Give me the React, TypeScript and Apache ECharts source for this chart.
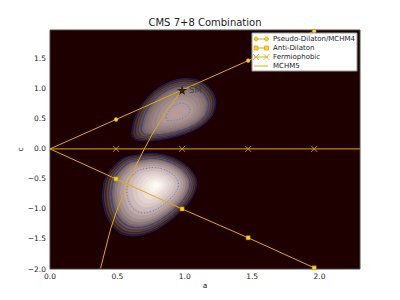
import { useEffect, useRef } from "react";
import * as echarts from "echarts";

// ---------- data ----------
const TITLE = "CMS 7+8 Combination";
const X_NAME = "a";
const Y_NAME = "c";
const X_MIN = 0;
const X_MAX = 2.3;
const Y_MIN = -2.0;
const Y_MAX = 1.98;
const TICK_STEP = 0.5;

const SERIES_NAMES = ["Pseudo-Dilaton/MCHM4", "Anti-Dilaton", "Fermiophobic", "MCHM5"];

const PSEUDO_DILATON = [[0, 0], [0.49, 0.49], [0.98, 0.98], [1.47, 1.47], [1.96, 1.96]];
const ANTI_DILATON = [[0, 0], [0.49, -0.5], [0.98, -1.0], [1.47, -1.48], [1.96, -1.98]];
const FERMIOPHOBIC = [[0, 0], [0.49, 0], [0.98, 0], [1.47, 0], [1.96, 0], [2.3, 0]];
const MCHM5 = [
  [0.98, 0.98], [0.93, 0.83], [0.875, 0.66], [0.82, 0.47], [0.76, 0.25], [0.7, 0.0],
  [0.63, -0.31], [0.55, -0.72], [0.5, -1.0], [0.45, -1.33], [0.41, -1.68], [0.375, -1.99],
];
const SM_POINT = [0.98, 0.98];
const SM_LABEL = "SM";

// likelihood blobs: outer contour outline + peak position
const UPPER_OUTLINE = [
  [0.608, 0.308], [0.644, 0.587], [0.718, 0.837], [0.817, 1.03], [0.94, 1.15], [1.063, 1.16],
  [1.162, 1.06], [1.223, 0.863], [1.223, 0.67], [1.174, 0.475], [1.063, 0.308], [0.915, 0.197],
  [0.767, 0.142], [0.656, 0.142], [0.615, 0.197],
];
const UPPER_PEAK = [0.96, 0.6];
const UPPER_LEVELS = [1, 0.97, 0.94, 0.91, 0.88, 0.85, 0.82, 0.78, 0.73, 0.66, 0.58, 0.48, 0.38, 0.28, 0.18, 0.1];
const UPPER_DASHED = 0.8;
const UPPER_DOTTED = 0.28;

const LOWER_OUTLINE = [
  [0.472, -0.297], [0.545, -0.158], [0.645, -0.103], [0.743, -0.075], [0.866, -0.113],
  [0.989, -0.242], [1.063, -0.408], [1.088, -0.575], [1.051, -0.825], [0.965, -1.047],
  [0.841, -1.27], [0.718, -1.408], [0.595, -1.447], [0.509, -1.38], [0.435, -1.187],
  [0.393, -0.88], [0.398, -0.603], [0.423, -0.437],
];
const LOWER_PEAK = [0.79, -0.6];
const LOWER_LEVELS = [1, 0.975, 0.95, 0.925, 0.9, 0.875, 0.85, 0.82, 0.78, 0.73, 0.67, 0.6, 0.52, 0.44, 0.36, 0.28, 0.2, 0.13, 0.07];
const LOWER_DASHED = 0.84;
const LOWER_DOTTED = 0.55;

// ---------- styles ----------
const FONT = "DejaVu Sans";
const BG = "#1e0000";
const LINE = "#e2aa10";
const MARK = "#ffd21a";
const MARK_EDGE = "#b88a00";
const UPPER_SHADES = [
  "#2c1414", "#4a3232", "#3c2626", "#584242", "#4c3838", "#665050", "#5c4848", "#766262",
  "#847070", "#907a7a", "#9a8484", "#a48e8e", "#ac9696", "#b29a9a", "#b69c9c", "#ba9898",
];
const LOWER_SHADES = [
  "#2c1414", "#4a3232", "#3c2626", "#5a4444", "#4c3838", "#6a5656", "#5e4a4a", "#7c6868",
  "#8e7a7a", "#a08c8c", "#b09c9c", "#c0acac", "#ccbaba", "#d8c8c6", "#e2d4d2", "#ebdfdc",
  "#f3eae6", "#f9f3ee", "#fdfaf4",
];

type Shell = { outline: number[][]; peak: number[]; s: number; fill: string; stroke: string; dash: number[] | null; width: number };

function buildShells(): Shell[] {
  const out: Shell[] = [];
  const blobs = [
    { outline: UPPER_OUTLINE, peak: UPPER_PEAK, levels: UPPER_LEVELS, shades: UPPER_SHADES, dashed: UPPER_DASHED, dotted: UPPER_DOTTED },
    { outline: LOWER_OUTLINE, peak: LOWER_PEAK, levels: LOWER_LEVELS, shades: LOWER_SHADES, dashed: LOWER_DASHED, dotted: LOWER_DOTTED },
  ];
  for (const b of blobs) {
    b.levels.forEach((s, i) => out.push({ outline: b.outline, peak: b.peak, s, fill: b.shades[i], stroke: "none", dash: null, width: 0 }));
    out.push({ outline: b.outline, peak: b.peak, s: 1, fill: "none", stroke: "#1a1a7a", dash: null, width: 1 });
    out.push({ outline: b.outline, peak: b.peak, s: b.dashed, fill: "none", stroke: "#3040c0", dash: [4, 3], width: 1 });
    out.push({ outline: b.outline, peak: b.peak, s: b.dotted, fill: "none", stroke: "#8a68b8", dash: [1, 2], width: 1 });
  }
  return out;
}

const fmt = (v: number) => (v < 0 ? "\u2212" : "") + Math.abs(v).toFixed(1);

export default function App() {
  const ref = useRef<HTMLDivElement>(null);
  useEffect(() => {
    if (!ref.current) return;
    const chart = echarts.init(ref.current, undefined, { renderer: "svg" });
    const shells = buildShells();

    const withEnds = (pts: number[][], hideLast: boolean) =>
      pts.map((p, i) => (i === 0 || (hideLast && i === pts.length - 1) ? { value: p, symbol: "none" } : p));

    const legendRows = [0, 1, 2, 3].map((i) => 39 + 9 * i);
    const legendEls: any[] = [
      { type: "rect", shape: { x: 252, y: 33, width: 105, height: 38 }, style: { fill: "#ffffff", stroke: "#999999", lineWidth: 1 }, z: 100 },
    ];
    legendRows.forEach((y, i) => {
      legendEls.push({ type: "line", shape: { x1: 254, y1: y, x2: 268, y2: y }, style: { stroke: LINE, lineWidth: 1 }, z: 101 });
      if (i === 0) {
        [256, 266.5].forEach((x) => legendEls.push({ type: "circle", shape: { cx: x, cy: y, r: 2 }, style: { fill: MARK, stroke: MARK_EDGE, lineWidth: 0.5 }, z: 102 }));
      } else if (i === 1) {
        [256, 266.5].forEach((x) => legendEls.push({ type: "rect", shape: { x: x - 2, y: y - 2, width: 4, height: 4 }, style: { fill: MARK, stroke: MARK_EDGE, lineWidth: 0.5 }, z: 102 }));
      } else if (i === 2) {
        [256, 266.5].forEach((x) => {
          legendEls.push({ type: "line", shape: { x1: x - 3, y1: y - 3, x2: x + 3, y2: y + 3 }, style: { stroke: LINE, lineWidth: 0.8 }, z: 102 });
          legendEls.push({ type: "line", shape: { x1: x - 3, y1: y + 3, x2: x + 3, y2: y - 3 }, style: { stroke: LINE, lineWidth: 0.8 }, z: 102 });
        });
      }
      legendEls.push({
        type: "text", x: 273, y, z: 102,
        style: { text: SERIES_NAMES[i], fill: "#222222", fontSize: 7, fontFamily: FONT, verticalAlign: "middle", align: "left" },
      });
    });

    const option: any = {
      animation: false,
      backgroundColor: "#ffffff",
      title: {
        text: TITLE, left: 205, top: 17, padding: 0, textAlign: "center",
        textStyle: { fontFamily: FONT, fontSize: 10, fontWeight: "normal", color: "#222222" },
      },
      grid: { left: 50, right: 40, top: 30, bottom: 31, show: true, backgroundColor: BG, borderColor: "#4a4a4a", borderWidth: 1 },
      xAxis: {
        type: "value", min: X_MIN, max: X_MAX, interval: TICK_STEP,
        name: X_NAME, nameLocation: "middle", nameGap: 12, nameMoveOverlap: false,
        nameTextStyle: { fontFamily: FONT, fontSize: 7.5, color: "#222222" },
        axisLine: { show: false }, axisTick: { show: false }, splitLine: { show: false },
        axisLabel: { formatter: fmt, fontFamily: FONT, fontSize: 7.5, color: "#222222", margin: 3, showMaxLabel: false },
      },
      yAxis: {
        type: "value", min: Y_MIN, max: Y_MAX, interval: TICK_STEP,
        name: Y_NAME, nameLocation: "middle", nameGap: 26, nameMoveOverlap: false,
        nameTextStyle: { fontFamily: FONT, fontSize: 7.5, color: "#222222" },
        axisLine: { show: false }, axisTick: { show: false }, splitLine: { show: false },
        axisLabel: { formatter: fmt, fontFamily: FONT, fontSize: 7.5, color: "#222222", margin: 4, showMaxLabel: false },
      },
      graphic: legendEls,
      series: [
        {
          type: "custom",
          silent: true,
          clip: true,
          z: 1,
          data: shells.map((sh, i) => [sh.peak[0], sh.peak[1], i]),
          renderItem: (params: any, api: any) => {
            const sh = shells[api.value(2)];
            const pts = sh.outline.map(([a, c]) =>
              api.coord([sh.peak[0] + (a - sh.peak[0]) * sh.s, sh.peak[1] + (c - sh.peak[1]) * sh.s])
            );
            return {
              type: "polygon",
              shape: { points: pts, smooth: 0.4 },
              style: {
                fill: sh.fill, stroke: sh.stroke, lineWidth: sh.width,
                lineDash: sh.dash || undefined,
              },
            };
          },
        },
        {
          name: SERIES_NAMES[0], type: "line", data: withEnds(PSEUDO_DILATON, false), clip: true, z: 3,
          symbol: "circle", symbolSize: 4, lineStyle: { color: LINE, width: 1 },
          itemStyle: { color: MARK, borderColor: MARK_EDGE, borderWidth: 0.5 },
        },
        {
          name: SERIES_NAMES[1], type: "line", data: withEnds(ANTI_DILATON, false), clip: true, z: 3,
          symbol: "rect", symbolSize: 4, lineStyle: { color: LINE, width: 1 },
          itemStyle: { color: MARK, borderColor: MARK_EDGE, borderWidth: 0.5 },
        },
        {
          name: SERIES_NAMES[2], type: "line", data: withEnds(FERMIOPHOBIC, true), clip: true, z: 3,
          symbol: "path://M0,0L10,10M10,0L0,10", symbolSize: 6, lineStyle: { color: LINE, width: 1 },
          itemStyle: { color: LINE, borderColor: LINE, borderWidth: 0.8 },
        },
        {
          name: SERIES_NAMES[3], type: "line", data: MCHM5, clip: true, z: 3, showSymbol: false, symbol: "none",
          lineStyle: { color: LINE, width: 1 },
        },
        {
          type: "scatter", data: [SM_POINT], z: 5, silent: true,
          symbol: "path://M50,0 L61,35 L98,35 L68,57 L79,91 L50,70 L21,91 L32,57 L2,35 L39,35 Z",
          symbolSize: 10, itemStyle: { color: "#000000" },
          label: { show: true, formatter: SM_LABEL, position: "right", distance: 2, color: "#333333", fontSize: 8.5, fontFamily: FONT },
        },
      ],
    };
    chart.setOption(option);
    return () => chart.dispose();
  }, []);
  return <div ref={ref} style={{ position: "fixed", left: 0, top: 0, width: 400, height: 300 }} />;
}
